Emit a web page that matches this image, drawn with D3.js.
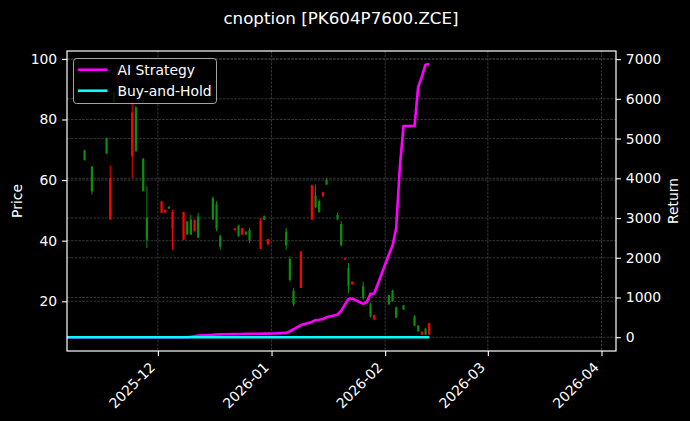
<!DOCTYPE html>
<html><head><meta charset="utf-8">
<script src="https://cdn.jsdelivr.net/npm/d3@7"></script>
<style>body{margin:0;background:#000}svg{display:block}</style>
</head><body><svg id="c" width="690" height="421"></svg>
<script>
// ---------- data ----------
const candleDates = ["2025-11-11","2025-11-13","2025-11-17","2025-11-18","2025-11-19","2025-11-20","2025-11-24","2025-11-25","2025-11-27","2025-11-28",
"2025-12-02","2025-12-03","2025-12-04","2025-12-05","2025-12-08","2025-12-09","2025-12-10","2025-12-11","2025-12-12","2025-12-16",
"2025-12-17","2025-12-18","2025-12-22","2025-12-23","2025-12-24","2025-12-25","2025-12-26","2025-12-29","2025-12-30","2025-12-31",
"2026-01-05","2026-01-06","2026-01-07","2026-01-09","2026-01-12","2026-01-13","2026-01-14","2026-01-15","2026-01-16","2026-01-19",
"2026-01-20","2026-01-21","2026-01-22","2026-01-23","2026-01-26","2026-01-28","2026-01-29","2026-02-02","2026-02-03","2026-02-04",
"2026-02-06","2026-02-09","2026-02-10","2026-02-11","2026-02-12","2026-02-13"];
const openP  = [66.6,56.3,68.7,60.7,85.6,96.5,82.3,69.5,56.3,40.3, 53.0,50.2,50.6,49.5,49.5,42.0,42.0,46.9,41.0,47.0, 44.0,38.0,44.0,41.4,44.2,42.0,40.0,46.5,46.9,40.6, 38.5,27.0,19.0,36.4,58.3,51.0,49.5,56.0,58.5,47.0, 38.5,34.3,25.0,26.5,21.0,15.0,15.5,19.0,20.0,14.6, 17.3,12.0,10.1,10.0,9.0,12.8];
const highP  = [70.0,64.6,74.0,64.8,89.2,98.0,86.0,84.4,67.3,58.0, 53.0,50.2,51.3,50.2,49.5,46.4,48.6,46.9,49.2,54.6, 53.0,42.0,44.2,45.3,44.2,43.1,44.2,47.5,48.3,40.6, 44.2,34.8,24.4,36.5,58.5,58.5,53.6,56.0,60.7,49.2, 46.4,34.3,32.6,26.5,26.5,19.6,15.5,22.1,23.8,18.3, 18.8,15.5,12.2,10.0,11.1,12.8];
const lowP   = [66.5,55.2,68.7,46.9,85.6,91.5,60.7,69.5,56.3,37.6, 49.2,49.2,50.6,37.0,40.3,42.0,42.0,43.1,40.9,46.9, 43.1,37.0,43.4,41.4,42.0,42.0,39.2,37.3,46.9,38.7, 37.0,26.5,18.3,24.4,46.9,50.8,49.2,54.6,58.5,46.9, 38.1,33.7,22.7,25.5,20.5,14.6,13.9,18.8,19.9,14.4, 17.2,11.7,10.0,8.9,8.9,8.9];
const closeP = [69.8,64.5,73.9,47.0,89.0,92.0,67.9,84.0,67.0,47.6, 49.2,49.3,51.2,44.0,40.3,46.4,47.0,43.1,48.0,54.0, 52.0,41.5,43.5,45.0,42.0,43.0,43.5,37.3,48.0,38.7, 43.0,34.0,23.5,24.4,47.0,55.0,53.0,54.6,60.0,48.5, 45.5,33.8,31.0,25.6,25.0,19.0,14.0,22.0,23.5,18.0, 18.7,15.0,12.0,9.0,11.0,9.0];

const retDates = ["2025-11-06","2025-11-07","2025-11-10","2025-11-11","2025-11-12","2025-11-13","2025-11-14","2025-11-17","2025-11-18","2025-11-19","2025-11-20","2025-11-21",
"2025-11-24","2025-11-25","2025-11-26","2025-11-27","2025-11-28","2025-12-01","2025-12-02","2025-12-03","2025-12-04","2025-12-05","2025-12-08","2025-12-09","2025-12-10","2025-12-11","2025-12-12",
"2025-12-15","2025-12-16","2025-12-17","2025-12-18","2025-12-19","2025-12-22","2025-12-23","2025-12-24","2025-12-25","2025-12-26","2025-12-29","2025-12-30","2025-12-31","2026-01-01","2026-01-02",
"2026-01-05","2026-01-06","2026-01-07","2026-01-08","2026-01-09","2026-01-12","2026-01-13","2026-01-14","2026-01-15","2026-01-16","2026-01-19","2026-01-20","2026-01-21","2026-01-22","2026-01-23",
"2026-01-26","2026-01-27","2026-01-28","2026-01-29","2026-01-30","2026-02-02","2026-02-03","2026-02-04","2026-02-05","2026-02-06","2026-02-09","2026-02-10","2026-02-11","2026-02-12","2026-02-13"];
const aiReturn = [0,0,0,0,0,0,0,0,0,0,0,0,
0,0,0,0,0,0,0,0,0,0,0,0,10,25,40,
55,62,68,72,75,78,80,82,84,86,88,90,91,92,94,
110,150,200,255,305,385,430,440,460,500,570,670,820,960,975,
840,890,1090,1100,1340,2080,2300,2750,4290,5315,5315,6300,6560,6860,6877];
const bhReturn = [0,0,0,0,0,0,0,0,0,0,0,0,
0,0,0,0,0,0,0,0,0,0,0,0,0,0,0,
0,0,0,0,0,0,0,0,0,0,0,0,0,0,0,
0,0,0,0,0,0,0,0,0,0,0,0,0,0,0,
0,0,0,0,0,0,0,0,0,0,0,0,0,0,0];

const priceTicks = [20,40,60,80,100];
const returnTicks = [0,1000,2000,3000,4000,5000,6000,7000];
const monthTicks = ["2025-12-01","2026-01-01","2026-02-01","2026-03-01","2026-04-01"];
const seriesNames = ["AI Strategy","Buy-and-Hold"];
const seriesColors = ["#ff00ff","#00ffff"];
const titleText = "cnoption [PK604P7600.ZCE]";

// ---------- layout ----------
const W = 690, H = 421;
const L = 67, R = 616, T = 51, B = 351;
const font = "DejaVu Sans, Liberation Sans, sans-serif";
const parse = d3.timeParse("%Y-%m-%d");

const svg = d3.select("#c");
svg.append("rect").attr("width", W).attr("height", H).attr("fill", "#000");

const x = d3.scaleTime()
  .domain([new Date(2025,10,6,5), new Date(2026,3,4,23)])
  .range([L, R]);
const yP = d3.scaleLinear().domain([3.6, 102.6]).range([B, T]);
const yR = d3.scaleLinear().domain([-347, 7204]).range([B, T]);

svg.append("defs").append("clipPath").attr("id","clip")
  .append("rect").attr("x", L).attr("y", T).attr("width", R-L).attr("height", B-T);

// grids
const grid = svg.append("g").attr("stroke", "#4d4d4d").attr("stroke-width", 0.7).attr("stroke-dasharray", "2.6,1.2");
grid.selectAll(".gx").data(monthTicks.map(parse)).enter().append("line")
  .attr("x1", d => x(d)).attr("x2", d => x(d)).attr("y1", T).attr("y2", B);
grid.selectAll(".gp").data(priceTicks).enter().append("line")
  .attr("x1", L).attr("x2", R).attr("y1", d => yP(d)).attr("y2", d => yP(d));
grid.selectAll(".gr").data(returnTicks).enter().append("line")
  .attr("x1", L).attr("x2", R).attr("y1", d => yR(d)).attr("y2", d => yR(d));

// candles
const candles = candleDates.map((d,i) => ({d: parse(d), o: openP[i], h: highP[i], l: lowP[i], c: closeP[i]}));
const cg = svg.append("g").attr("clip-path", "url(#clip)");
const day = 864e5;
candles.forEach(k => {
  const col = k.c >= k.o ? "#0a900a" : "#ff0000";
  const cx = x(k.d);
  cg.append("line").attr("x1", cx).attr("x2", cx).attr("y1", yP(k.h)).attr("y2", yP(k.l))
    .attr("stroke", col).attr("stroke-width", 1);
  const bw = x(new Date(+k.d + 0.3*day)) - x(new Date(+k.d - 0.3*day));
  const top = yP(Math.max(k.o, k.c)), bot = yP(Math.min(k.o, k.c));
  cg.append("rect").attr("x", cx - bw/2).attr("y", top).attr("width", bw).attr("height", Math.max(1, bot - top))
    .attr("fill", col);
});

// return lines
const rd = retDates.map(parse);
const line = d3.line().x(d => x(d[0])).y(d => yR(d[1]));
const lg = svg.append("g").attr("clip-path", "url(#clip)");
lg.append("path").datum(rd.map((d,i) => [d, aiReturn[i]])).attr("d", line)
  .attr("fill", "none").attr("stroke", seriesColors[0]).attr("stroke-width", 2.6).attr("stroke-linejoin","round");
lg.append("path").datum(rd.map((d,i) => [d, bhReturn[i]])).attr("d", line)
  .attr("fill", "none").attr("stroke", seriesColors[1]).attr("stroke-width", 2.4);

// axes
const tickStyle = g => {
  g.selectAll(".domain").remove();
  g.selectAll(".tick line").attr("stroke", "#fff").attr("stroke-width", 1.1);
  g.selectAll(".tick text").attr("fill", "#fff").attr("font-family", font).attr("font-size", "13.9px");
};
svg.append("g").attr("transform", `translate(${L},0)`)
  .call(d3.axisLeft(yP).tickValues(priceTicks).tickFormat(d3.format("d")).tickSize(4.9).tickPadding(4.9))
  .call(tickStyle);
svg.append("g").attr("transform", `translate(${R},0)`)
  .call(d3.axisRight(yR).tickValues(returnTicks).tickFormat(d3.format("d")).tickSize(4.9).tickPadding(4.9))
  .call(tickStyle);
const xa = svg.append("g").attr("transform", `translate(0,${B})`)
  .call(d3.axisBottom(x).tickValues(monthTicks.map(parse)).tickFormat(d3.timeFormat("%Y-%m")).tickSize(4.9))
  .call(tickStyle);
xa.selectAll(".tick text")
  .attr("text-anchor", "end").attr("dy", null).attr("y", null)
  .attr("transform", "translate(-2.3,17.2) rotate(-45)");

// spines
svg.append("rect").attr("x", L).attr("y", T).attr("width", R-L).attr("height", B-T)
  .attr("fill", "none").attr("stroke", "#fff").attr("stroke-width", 1.2);

// axis labels
svg.append("text").attr("transform", `translate(22,${(T+B)/2}) rotate(-90)`)
  .attr("text-anchor", "middle").attr("fill", "#fff").attr("font-family", font).attr("font-size", "13.9px").text("Price");
svg.append("text").attr("transform", `translate(677.5,${(T+B)/2}) rotate(-90)`)
  .attr("text-anchor", "middle").attr("fill", "#fff").attr("font-family", font).attr("font-size", "13.9px").text("Return");

// title
svg.append("text").attr("x", 341).attr("y", 24).attr("text-anchor", "middle")
  .attr("fill", "#fff").attr("font-family", font).attr("font-size", "16.7px").text(titleText);

// legend
const leg = svg.append("g");
leg.append("rect").attr("x", 73.5).attr("y", 58.5).attr("width", 143).attr("height", 45).attr("rx", 3)
  .attr("fill", "#000").attr("fill-opacity", 0.8).attr("stroke", "#cccccc").attr("stroke-opacity", 0.8).attr("stroke-width", 1);
seriesNames.forEach((n,i) => {
  const yy = 69.7 + i*21;
  leg.append("line").attr("x1", 78).attr("x2", 107.5).attr("y1", yy).attr("y2", yy)
    .attr("stroke", seriesColors[i]).attr("stroke-width", 2.6);
  leg.append("text").attr("x", 117.5).attr("y", yy + 5).attr("fill", "#fff")
    .attr("font-family", font).attr("font-size", "13.9px").text(n);
});
</script></body></html>
